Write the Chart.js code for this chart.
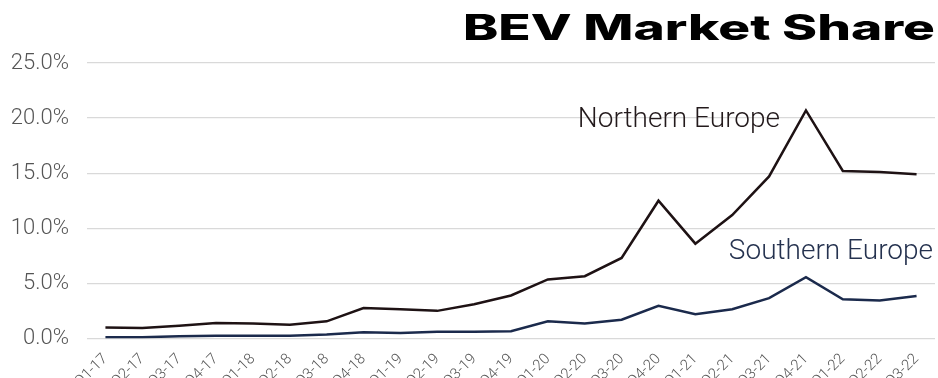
<!DOCTYPE html>
<html lang="en">
<head>
    <meta charset="UTF-8">
    <title>BEV Market Share</title>
    <script src="https://cdn.jsdelivr.net/npm/chart.js"></script>
    <style>
        body {
            margin: 0;
            background: #fff;
        }
        .chart-box {
            width: 938px;
            height: 378px;
        }
    </style>
</head>
<body>
    <div class="chart-box">
        <canvas id="shareChart"></canvas>
    </div>

    <script>
        const quarters = ['Q1-17', 'Q2-17', 'Q3-17', 'Q4-17', 'Q1-18', 'Q2-18', 'Q3-18', 'Q4-18',
            'Q1-19', 'Q2-19', 'Q3-19', 'Q4-19', 'Q1-20', 'Q2-20', 'Q3-20', 'Q4-20',
            'Q1-21', 'Q2-21', 'Q3-21', 'Q4-21', 'Q1-22', 'Q2-22', 'Q3-22'];
        const northernEurope = [1.0, 0.95, 1.15, 1.4, 1.35, 1.25, 1.55, 2.75, 2.65, 2.5, 3.1, 3.9,
            5.35, 5.65, 7.3, 12.5, 8.6, 11.2, 14.7, 20.7, 15.2, 15.1, 14.9];
        const southernEurope = [0.1, 0.1, 0.2, 0.25, 0.25, 0.25, 0.35, 0.55, 0.5, 0.6, 0.6, 0.65,
            1.55, 1.35, 1.7, 2.95, 2.2, 2.65, 3.65, 5.55, 3.55, 3.45, 3.85];
        const yTicks = [0, 5, 10, 15, 20, 25];

        // wide heavy title, stretched to the width it has in the original
        const wideTitle = {
            id: 'wideTitle',
            afterDraw(chart) {
                const ctx = chart.ctx;
                const text = 'BEV Market Share';
                const right = chart.width - 3;
                const targetWidth = 472;
                ctx.save();
                ctx.font = '800 35px Inter, "Liberation Sans", sans-serif';
                ctx.textBaseline = 'alphabetic';
                ctx.fillStyle = '#000';
                const w = ctx.measureText(text).width;
                ctx.translate(right - targetWidth, 40);
                ctx.scale(targetWidth / w, 1);
                ctx.textAlign = 'left';
                ctx.fillText(text, 0, 0);
                ctx.restore();
            }
        };

        // series names written straight onto the plot instead of a legend
        const seriesLabels = {
            id: 'seriesLabels',
            afterDatasetsDraw(chart) {
                const { ctx, chartArea, scales } = chart;
                ctx.save();
                ctx.font = '300 28px Roboto, sans-serif';
                ctx.textAlign = 'right';
                ctx.textBaseline = 'middle';
                ctx.fillStyle = '#231a1c';
                ctx.fillText('Northern Europe', chartArea.right - 155, scales.y.getPixelForValue(19.8));
                ctx.fillStyle = '#25324f';
                ctx.fillText('Southern Europe', chartArea.right - 2, scales.y.getPixelForValue(7.8));
                ctx.restore();
            }
        };

        new Chart(document.getElementById('shareChart'), {
            type: 'line',
            data: {
                labels: quarters,
                datasets: [{
                    label: 'Northern Europe',
                    data: northernEurope,
                    borderColor: '#1e1214',
                    borderWidth: 2.5,
                    pointRadius: 0,
                    tension: 0
                }, {
                    label: 'Southern Europe',
                    data: southernEurope,
                    borderColor: '#1b2a4c',
                    borderWidth: 2.5,
                    pointRadius: 0,
                    tension: 0
                }]
            },
            options: {
                responsive: true,
                maintainAspectRatio: false,
                animation: false,
                layout: { padding: { top: 63, left: 4, right: 3, bottom: -17 } },
                plugins: {
                    legend: { display: false },
                    tooltip: { enabled: false },
                    title: { display: false }
                },
                scales: {
                    x: {
                        offset: true,
                        grid: { display: false },
                        border: { display: false },
                        afterFit(axis) {
                            axis.paddingLeft = 0;
                            axis.paddingRight = 0;
                        },
                        ticks: {
                            color: '#555',
                            font: { family: 'Roboto, sans-serif', size: 15, weight: 300 },
                            minRotation: 45,
                            maxRotation: 45,
                            autoSkip: false,
                            padding: 4
                        }
                    },
                    y: {
                        min: 0,
                        max: 25,
                        afterBuildTicks(axis) {
                            axis.ticks = yTicks.map(v => ({ value: v }));
                        },
                        afterFit(axis) { axis.width = 83; },
                        grid: { color: '#d9d9d9', lineWidth: 1.2, drawTicks: false },
                        border: { display: false },
                        ticks: {
                            color: '#555',
                            font: { family: 'Roboto, sans-serif', size: 22, weight: 300 },
                            padding: 18,
                            callback: v => v.toFixed(1) + '%'
                        }
                    }
                }
            },
            plugins: [seriesLabels, wideTitle]
        });
    </script>
</body>
</html>
